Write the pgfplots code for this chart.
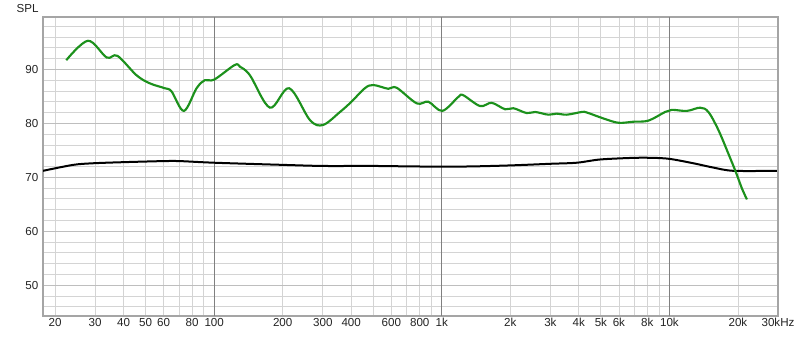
\documentclass[border=0pt]{standalone}
\usepackage{fontspec}
\setmainfont{Liberation Sans}
\usepackage{pgfplots}
\pgfplotsset{compat=1.18}
\definecolor{grn}{RGB}{28,145,28}
\definecolor{gmaj}{RGB}{190,190,190}
\definecolor{gmin}{RGB}{212,212,212}
\definecolor{gdec}{RGB}{128,128,128}
\definecolor{frm}{RGB}{165,165,165}
\definecolor{txt}{RGB}{35,35,35}
\begin{document}
\begin{tikzpicture}[x=0.75pt,y=0.75pt]
\useasboundingbox (-43,-24) rectangle (757,316);
\begin{axis}[
  at={(0,0)}, anchor=south west, scale only axis,
  width=551.25pt, height=224.25pt,
  xmode=log, xmin=17.7, xmax=30000, ymin=44.3, ymax=99.7,
  axis line style={draw=frm, line width=1.3pt},
  tick style={draw=none}, major tick length=0pt, minor tick length=0pt,
  xtick={100,1000,10000}, xticklabels={,,},
  minor xtick={20,30,40,50,60,70,80,90,200,300,400,500,600,700,800,900,2000,3000,4000,5000,6000,7000,8000,9000,20000},
  extra x ticks={20,30,40,50,60,80,100,200,300,400,600,800,1000,2000,3000,4000,5000,6000,8000,10000,20000,30000},
  extra x tick labels={20,30,40,50,60,80,100,200,300,400,600,800,1k,2k,3k,4k,5k,6k,8k,10k,20k,30kHz},
  extra x tick style={grid=none},
  ytick={50,60,70,80,90},
  minor ytick={46,48,...,98},
  grid=both,
  major grid style={draw=gmaj, line width=0.6pt},
  minor grid style={draw=gmin, line width=0.6pt},
  /pgf/number format/assume math mode=true,
  tick label style={font=\fontsize{8.7}{10}\selectfont, text=txt},
  every x tick label/.append style={inner sep=1.5pt},
]
% decade grid lines, drawn above the horizontal grid
\draw[gdec, line width=0.6pt] (axis cs:100,44.3) -- (axis cs:100,99.7);
\draw[gdec, line width=0.6pt] (axis cs:1000,44.3) -- (axis cs:1000,99.7);
\draw[gdec, line width=0.6pt] (axis cs:10000,44.3) -- (axis cs:10000,99.7);
\addplot[black, line width=1.5pt, smooth, tension=0.5] coordinates {
(17.7,71.2) (24,72.3) (29.4,72.6) (39.8,72.8) (59.7,73.0) (70.7,73.0) (100,72.7)
(201,72.3) (301,72.1) (500,72.1) (802,72.0) (1286,72.0) (1995,72.2) (2990,72.5)
(3920,72.7) (4960,73.3) (6950,73.6) (8510,73.6) (10070,73.4) (12740,72.6)
(15600,71.8) (19100,71.2) (29650,71.2)
};
\addplot[grn, line width=1.6pt, smooth, tension=0.55] coordinates {
(22.4,91.7) (27.9,95.3) (33.7,92.2) (37.6,92.5) (45.6,88.9) (52.2,87.4) (60.7,86.5)
(65,85.9) (73.6,82.3) (83.7,86.5) (91,88.0) (100,88.1) (123,90.8) (129.7,90.5)
(143.6,88.9) (175.8,82.9) (213.6,86.5) (263.5,80.6) (301,79.7) (357,82.1) (401,84.0)
(459,86.5) (500,87.1) (582,86.4) (633,86.6) (776,83.7) (873,84.0) (1005,82.3)
(1183,84.9) (1243,85.2) (1473,83.2) (1656,83.8) (1898,82.6) (2063,82.8) (2360,81.9)
(2572,82.1) (2940,81.6) (3200,81.8) (3540,81.6) (4120,82.1) (4340,82.0) (5130,80.9)
(5970,80.1) (6950,80.3) (8090,80.5) (9570,82.1) (10250,82.5) (11940,82.3)
(13650,82.9) (14840,82.1) (16400,78.8) (18150,74.4) (19570,71.0) (20800,68.0) (21900,65.9)
};
\end{axis}
\node[font=\fontsize{8.7}{10}\selectfont, text=txt] at (-15.5,307.5) {SPL};
\end{tikzpicture}
\end{document}
